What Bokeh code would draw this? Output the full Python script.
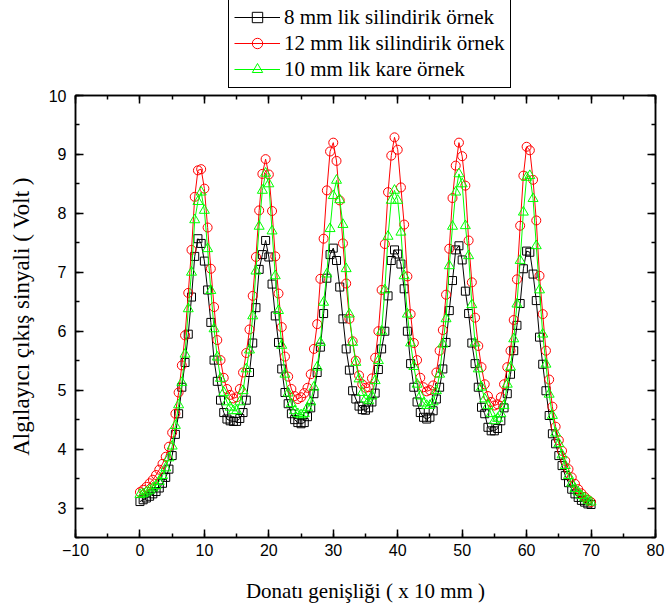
from bokeh.plotting import figure
from bokeh.layouts import column
from bokeh.models import (Range1d, LinearAxis, Legend, LegendItem, SingleIntervalTicker,
                          CustomJSTickFormatter)
from bokeh.embed import file_html
from bokeh.resources import INLINE

# sampling positions (x 10 mm), 0 ... 70 every 0.5
x = [i * 0.5 for i in range(141)]

labels = ["8 mm lik silindirik örnek", "12 mm lik silindirik örnek", "10 mm lik kare örnek"]

# 8 mm cylindrical sample
black = [
    3.11, 3.14, 3.17, 3.20, 3.24, 3.28, 3.34, 3.42, 3.52, 3.66,
    3.89, 4.25, 4.60, 5.05, 5.47, 5.95, 6.58, 7.27, 7.57, 7.49,
    7.19, 6.70, 6.15, 5.51, 5.15, 4.83, 4.62, 4.51, 4.48, 4.47,
    4.47, 4.52, 4.62, 4.83, 5.30, 5.80, 6.40, 7.05, 7.30, 7.54,
    7.26, 6.80, 6.26, 5.81, 5.36, 4.96, 4.77, 4.60, 4.50, 4.45,
    4.43, 4.45, 4.55, 4.70, 4.94, 5.30, 5.73, 6.30, 6.90, 7.30,
    7.41, 7.20, 6.75, 6.21, 5.70, 5.34, 4.99, 4.85, 4.73, 4.67,
    4.66, 4.70, 4.80, 4.95, 5.35, 5.70, 6.00, 6.60, 7.20, 7.38,
    7.31, 7.14, 6.72, 6.00, 5.45, 5.05, 4.80, 4.62, 4.54, 4.51,
    4.54, 4.65, 4.85, 5.05, 5.36, 5.81, 6.35, 6.86, 7.38, 7.45,
    7.21, 6.68, 6.30, 5.80, 5.45, 5.05, 4.71, 4.60, 4.37, 4.31,
    4.31, 4.35, 4.48, 4.70, 4.94, 5.27, 5.67, 6.10, 6.47, 7.06,
    7.36, 7.34, 6.97, 6.52, 5.90, 5.44, 4.99, 4.57, 4.26, 4.09,
    3.89, 3.72, 3.55, 3.43, 3.32, 3.24, 3.18, 3.13, 3.10, 3.07,
    3.06,
]

# 12 mm cylindrical sample
red = [
    3.27, 3.31, 3.36, 3.42, 3.48, 3.56, 3.65, 3.75, 3.87, 4.04,
    4.28, 4.60, 4.96, 5.42, 5.93, 6.65, 7.38, 8.28, 8.73, 8.75,
    8.42, 7.76, 7.06, 6.41, 5.85, 5.51, 5.21, 5.02, 4.92, 4.86,
    4.88, 5.02, 5.30, 5.63, 6.03, 6.60, 7.26, 8.05, 8.67, 8.92,
    8.66, 8.04, 7.27, 6.64, 6.07, 5.57, 5.23, 5.02, 4.90, 4.85,
    4.88, 4.95, 5.04, 5.27, 5.70, 6.12, 6.89, 7.57, 8.39, 9.05,
    9.20, 8.89, 8.22, 7.49, 6.81, 6.21, 5.83, 5.50, 5.25, 5.10,
    5.04, 5.05, 5.20, 5.55, 6.00, 6.70, 7.48, 8.36, 8.98, 9.29,
    9.08, 8.44, 7.81, 6.93, 6.29, 5.80, 5.51, 5.21, 5.05, 4.98,
    5.00, 5.08, 5.30, 5.67, 6.02, 6.62, 7.40, 8.26, 8.81, 9.20,
    8.97, 8.47, 7.54, 6.83, 6.23, 5.75, 5.39, 5.10, 4.90, 4.80,
    4.74, 4.76, 4.88, 5.10, 5.39, 5.67, 6.19, 6.88, 7.79, 8.64,
    9.13, 9.07, 8.57, 7.88, 6.94, 6.29, 5.67, 5.18, 4.72, 4.38,
    4.15, 3.97, 3.80, 3.66, 3.52, 3.41, 3.32, 3.25, 3.19, 3.14,
    3.10,
]

# 10 mm square sample
green = [
    3.23, 3.24, 3.27, 3.30, 3.34, 3.38, 3.45, 3.55, 3.68, 3.85,
    4.05, 4.40, 4.75, 5.13, 5.61, 6.38, 7.00, 7.89, 8.20, 8.36,
    8.05, 7.40, 6.69, 6.04, 5.56, 5.20, 4.96, 4.80, 4.71, 4.65,
    4.65, 4.80, 4.99, 5.36, 5.68, 6.26, 7.02, 7.78, 8.39, 8.68,
    8.50, 7.70, 6.94, 6.35, 5.76, 5.27, 4.95, 4.77, 4.65, 4.60,
    4.58, 4.60, 4.70, 4.80, 5.05, 5.39, 5.81, 6.49, 6.97, 7.74,
    8.30, 8.56, 8.23, 7.81, 7.06, 6.29, 5.81, 5.47, 5.19, 4.96,
    4.85, 4.82, 4.90, 5.16, 5.50, 6.00, 6.70, 7.61, 8.22, 8.39,
    8.22, 7.68, 6.94, 6.29, 5.80, 5.40, 5.10, 4.90, 4.78, 4.74,
    4.74, 4.80, 4.99, 5.27, 5.78, 6.21, 7.11, 7.78, 8.36, 8.67,
    8.50, 7.79, 7.28, 6.45, 5.80, 5.36, 5.05, 4.85, 4.74, 4.60,
    4.48, 4.52, 4.60, 4.74, 5.10, 5.39, 5.87, 6.46, 7.20, 8.02,
    8.61, 8.64, 8.25, 7.45, 6.70, 5.95, 5.44, 4.93, 4.57, 4.27,
    4.09, 3.90, 3.72, 3.55, 3.42, 3.33, 3.27, 3.21, 3.17, 3.13,
    3.10,
]

styles = [
    dict(color="#000000", marker="square", size=8),
    dict(color="#FF0000", marker="circle", size=9),
    dict(color="#00FF00", marker="triangle", size=10),
]
series = [black, red, green]

# ---------------- main plot ----------------
p = figure(width=667, height=522, output_backend="svg", toolbar_location=None,
           x_range=Range1d(-10, 80), y_range=Range1d(2.5, 10),
           min_border_left=75, min_border_right=12, min_border_top=7, min_border_bottom=73)
p.xgrid.visible = False
p.ygrid.visible = False
p.outline_line_color = "black"
p.outline_line_width = 1.5
p.background_fill_color = "white"
p.border_fill_color = "white"

bottom_ax = p.below[0]
left_ax = p.left[0]

blank = CustomJSTickFormatter(code="return '';")
top_ax = LinearAxis(formatter=blank)
right_ax = LinearAxis(formatter=blank)
p.add_layout(top_ax, "above")
p.add_layout(right_ax, "right")

for ax in [bottom_ax, top_ax]:
    ax.ticker = SingleIntervalTicker(interval=10, num_minor_ticks=2)
for ax in [left_ax, right_ax]:
    ax.ticker = SingleIntervalTicker(interval=1, num_minor_ticks=2)

for ax in [bottom_ax, left_ax, top_ax, right_ax]:
    ax.major_tick_in = 8
    ax.major_tick_out = 0
    ax.minor_tick_in = 4
    ax.minor_tick_out = 0
    ax.axis_line_width = 1.5
    ax.major_tick_line_width = 1.5
    ax.minor_tick_line_width = 1.5
    ax.axis_line_color = "black"
    ax.major_tick_line_color = "black"
    ax.minor_tick_line_color = "black"
    ax.major_label_text_font = "Liberation Sans"
    ax.major_label_text_font_size = "16px"
    ax.major_label_text_color = "black"

for ax in [top_ax, right_ax]:
    ax.major_label_standoff = 0
    ax.major_label_text_font_size = "4px"

bottom_ax.major_label_standoff = 6
left_ax.major_label_standoff = 9

bottom_ax.axis_label = "Donatı genişliği ( x 10 mm )"
left_ax.axis_label = "Algılayıcı çıkış sinyali ( Volt )"
for ax in [bottom_ax, left_ax]:
    ax.axis_label_text_font = "Liberation Serif"
    ax.axis_label_text_font_style = "normal"
    ax.axis_label_text_color = "black"
bottom_ax.axis_label_text_font_size = "21px"
left_ax.axis_label_text_font_size = "23px"
bottom_ax.axis_label_standoff = 20
left_ax.axis_label_standoff = 12

for ys, st in zip(series, styles):
    p.line(x, ys, line_color=st["color"], line_width=1)
    p.scatter(x, ys, marker=st["marker"], size=st["size"], fill_color=None,
              line_color=st["color"], line_width=1)

# ---------------- legend strip above the plot ----------------
# the same series are drawn here outside the visible range; only the legend shows
top = figure(width=667, height=88, output_backend="svg", toolbar_location=None,
             x_range=Range1d(-10, 80), y_range=Range1d(-2, -1),
             x_axis_location=None, y_axis_location=None, min_border=0)
top.outline_line_color = None
top.xgrid.visible = False
top.ygrid.visible = False
top.background_fill_color = "white"
top.border_fill_color = "white"

items = []
for lab, ys, st in zip(labels, series, styles):
    lr = top.line(x, ys, line_color=st["color"], line_width=1)
    sr = top.scatter(x, ys, marker=st["marker"], size=st["size"], fill_color=None,
                     line_color=st["color"], line_width=1)
    items.append(LegendItem(label=lab, renderers=[lr, sr]))

legend = Legend(items=items, location=(153, 0), orientation="vertical")
legend.margin = 0
legend.padding = 5
legend.spacing = 0
legend.label_height = 26
legend.glyph_height = 26
legend.glyph_width = 46
legend.label_standoff = 4
legend.label_text_font = "Liberation Serif"
legend.label_text_font_size = "21px"
legend.label_text_color = "black"
legend.border_line_color = "black"
legend.border_line_alpha = 1.0
legend.border_line_width = 1.5
legend.background_fill_color = "white"
legend.background_fill_alpha = 1.0
top.add_layout(legend)

layout = column(top, p, spacing=0)
open("out.html", "w").write(file_html(layout, INLINE))
